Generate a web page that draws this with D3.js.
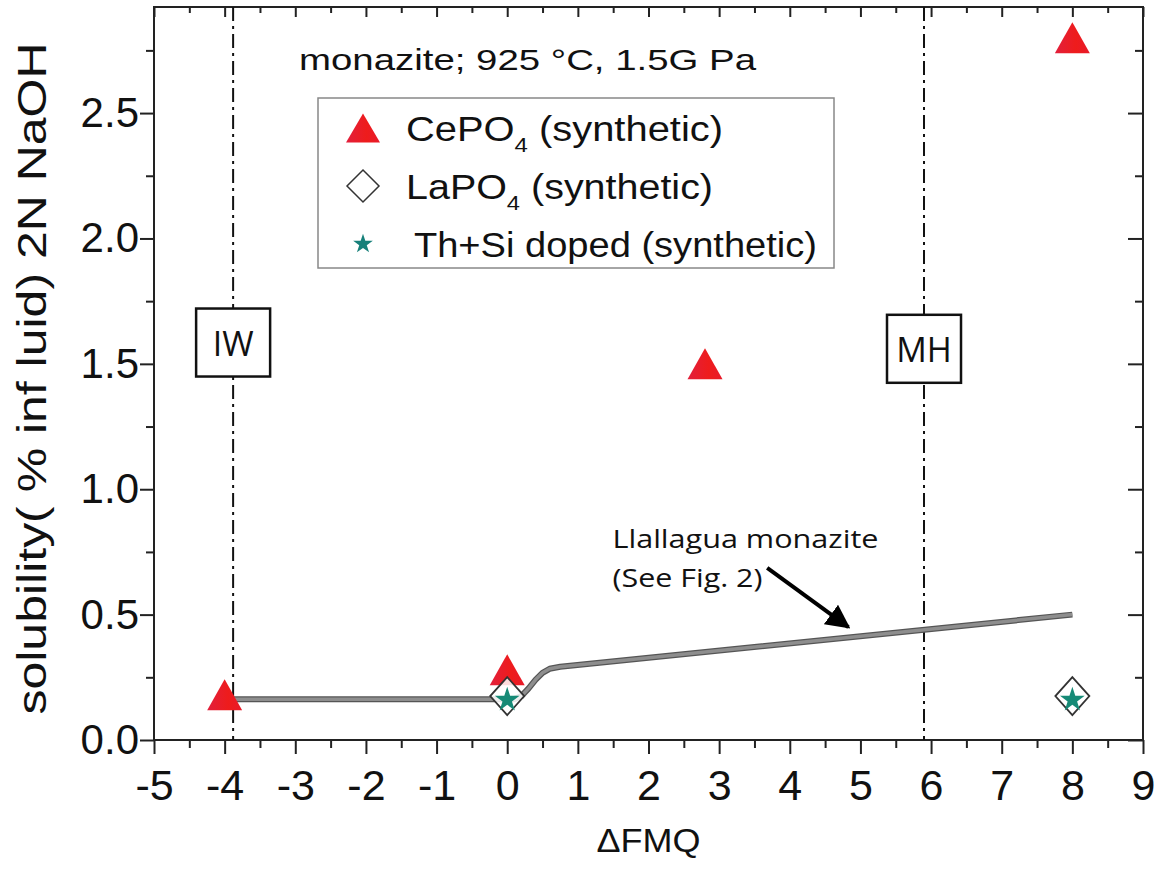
<!DOCTYPE html>
<html>
<head>
<meta charset="utf-8">
<script src="https://cdn.jsdelivr.net/npm/d3@7"></script>
<style>
  body { margin: 0; background: #fff; }
  svg { display: block; }
  text { fill: #111; }
</style>
</head>
<body>
<div id="chart"></div>
<script>
// data
const ceX = [-4, 0, 2.8, 8];
const ceY = [0.18, 0.28, 1.5, 2.8];
const laX = [0, 8];
const laY = [0.175, 0.175];
const thX = [0, 8];
const thY = [0.16, 0.16];
// Llallagua monazite curve
const llX = [-3.9, 0.1, 0.2, 0.3, 0.4, 0.5, 0.6, 0.75, 8];
const llY = [0.163, 0.163, 0.175, 0.205, 0.24, 0.268, 0.284, 0.292, 0.5];
// buffer lines
const bufNames = ["IW", "MH"];
const bufX = [-3.88, 5.9];
const bufBoxY = [1.585, 1.56];

const xTicks = d3.range(-5, 10, 1);
const xMinor = d3.range(-4.5, 9, 1);
const yTicks = [0, 0.5, 1.0, 1.5, 2.0, 2.5];
const yMinor = [0.25, 0.75, 1.25, 1.75, 2.25, 2.75];

const W = 1157, H = 876;
const margin = { top: 7, right: 14, bottom: 136, left: 154 },
  width = W - margin.left - margin.right,
  height = H - margin.top - margin.bottom;

const svg = d3.select("#chart")
  .append("svg")
  .attr("width", W)
  .attr("height", H)
  .append("g")
  .attr("transform", `translate(${margin.left},${margin.top})`);

const x = d3.scaleLinear().domain([-5, 9]).range([0, width]);
const y = d3.scaleLinear().domain([0, 2.923]).range([height, 0]);

const axisFont = "'Liberation Sans', Arial, sans-serif";
const myriad = "'Open Sans', 'Noto Sans', sans-serif";

// axes
function styleAxis(g) {
  g.select(".domain").remove();
  g.selectAll("line").attr("stroke", "#222").attr("stroke-width", 2);
}
svg.append("g").attr("transform", `translate(0,${height})`)
  .call(d3.axisBottom(x).tickValues(xTicks).tickSize(14).tickPadding(15).tickFormat(d => String(d)))
  .call(styleAxis)
  .call(g => g.selectAll("text").attr("font-family", axisFont).attr("font-size", 43).attr("fill", "#111"));
svg.append("g").attr("transform", `translate(0,${height})`)
  .call(d3.axisBottom(x).tickValues(xMinor).tickSize(8).tickFormat(""))
  .call(styleAxis);
svg.append("g")
  .call(d3.axisLeft(y).tickValues(yTicks).tickSize(14).tickPadding(1).tickFormat(d3.format(".1f")))
  .call(styleAxis)
  .call(g => g.selectAll("text").attr("font-family", axisFont).attr("font-size", 42).attr("fill", "#111"));
svg.append("g")
  .call(d3.axisLeft(y).tickValues(yMinor).tickSize(8).tickFormat(""))
  .call(styleAxis);
// top and right, ticks inward
svg.append("g")
  .call(d3.axisTop(x).tickValues(xTicks).tickSize(-10).tickFormat(""))
  .call(styleAxis);
svg.append("g")
  .call(d3.axisTop(x).tickValues(xMinor).tickSize(-6).tickFormat(""))
  .call(styleAxis);
svg.append("g").attr("transform", `translate(${width},0)`)
  .call(d3.axisRight(y).tickValues(yTicks).tickSize(-15).tickFormat(""))
  .call(styleAxis);
svg.append("g").attr("transform", `translate(${width},0)`)
  .call(d3.axisRight(y).tickValues(yMinor).tickSize(-8).tickFormat(""))
  .call(styleAxis);

svg.append("rect")
  .attr("width", width).attr("height", height)
  .attr("fill", "none").attr("stroke", "#222").attr("stroke-width", 2);

// axis titles
svg.append("text")
  .attr("x", x(2)).attr("y", height + 112)
  .attr("text-anchor", "middle")
  .attr("font-family", axisFont).attr("font-size", 33)
  .attr("textLength", 104).attr("lengthAdjust", "spacingAndGlyphs")
  .text("\u0394FMQ");
svg.append("text")
  .attr("transform", `translate(${-108},${height / 2 + 5}) rotate(-90)`)
  .attr("text-anchor", "middle")
  .attr("font-family", axisFont).attr("font-size", 40)
  .attr("textLength", 672).attr("lengthAdjust", "spacingAndGlyphs")
  .text("solubility( % inf luid) 2N NaOH");

// buffer lines
svg.selectAll(".buf")
  .data(bufX)
  .join("line")
  .attr("x1", d => x(d)).attr("x2", d => x(d))
  .attr("y1", 0).attr("y2", height)
  .attr("stroke", "#111").attr("stroke-width", 2)
  .attr("stroke-dasharray", "14,5,3,5");

// Llallagua curve
const line = d3.line()
  .x((d, i) => x(llX[i]))
  .y(d => y(d));
svg.append("path").datum(llY)
  .attr("d", line).attr("fill", "none")
  .attr("stroke", "#555").attr("stroke-width", 6)
  .attr("stroke-linejoin", "round");
svg.append("path").datum(llY)
  .attr("d", line).attr("fill", "none")
  .attr("stroke", "#8e8e8e").attr("stroke-width", 3.5)
  .attr("stroke-linejoin", "round");

// markers
function triangle(w, h) {
  const p = d3.path();
  p.moveTo(0, -h / 2); p.lineTo(w / 2, h / 2); p.lineTo(-w / 2, h / 2); p.closePath();
  return p.toString();
}
function diamond(w, h) {
  const p = d3.path();
  p.moveTo(0, -h / 2); p.lineTo(w / 2, 0); p.lineTo(0, h / 2); p.lineTo(-w / 2, 0); p.closePath();
  return p.toString();
}
const star = d3.symbol().type(d3.symbolStar).size(190);

const defs = d3.select("svg").append("defs");
const grad = defs.append("linearGradient").attr("id", "red").attr("x1", 0).attr("x2", 1).attr("y1", 0).attr("y2", 0);
grad.append("stop").attr("offset", "0%").attr("stop-color", "#e21f3c");
grad.append("stop").attr("offset", "60%").attr("stop-color", "#ee1c1c");
grad.append("stop").attr("offset", "100%").attr("stop-color", "#e81a2a");

svg.selectAll(".ce")
  .data(ceY)
  .join("path")
  .attr("transform", (d, i) => `translate(${x(ceX[i])},${y(d)})`)
  .attr("d", triangle(35, 31))
  .attr("fill", "url(#red)");

svg.selectAll(".la")
  .data(laY)
  .join("path")
  .attr("transform", (d, i) => `translate(${x(laX[i])},${y(d)})`)
  .attr("d", diamond(34, 38))
  .attr("fill", "#fff").attr("fill-opacity", 0.85)
  .attr("stroke", "#333").attr("stroke-width", 1.8);

svg.selectAll(".th")
  .data(thY)
  .join("path")
  .attr("transform", (d, i) => `translate(${x(thX[i])},${y(d)})`)
  .attr("d", star)
  .attr("fill", "#168a76");

// title
svg.append("text")
  .attr("x", 145).attr("y", 63)
  .attr("font-family", axisFont).attr("font-size", 29)
  .attr("textLength", 457).attr("lengthAdjust", "spacingAndGlyphs")
  .text("monazite; 925 \u00B0C, 1.5G Pa");

// legend
const lg = svg.append("g").attr("transform", "translate(164,91)");
lg.append("rect").attr("width", 516).attr("height", 170)
  .attr("fill", "#fff").attr("stroke", "#888").attr("stroke-width", 1.5);
lg.append("path").attr("transform", "translate(45,30)").attr("d", triangle(34, 29)).attr("fill", "url(#red)");
lg.append("path").attr("transform", "translate(45,88)").attr("d", diamond(32, 32))
  .attr("fill", "#fff").attr("stroke", "#333").attr("stroke-width", 1.5);
lg.append("path").attr("transform", "translate(45,146)").attr("d", d3.symbol().type(d3.symbolStar).size(120)).attr("fill", "#17807a");

const legendLabels = ["CePO", "LaPO", " Th+Si doped (synthetic)"];
const legendSubs = ["4", "4", ""];
const legendRest = [" (synthetic)", " (synthetic)", ""];
const legendLen = [317, 307, 413];
legendLabels.forEach((lab, i) => {
  const t = lg.append("text")
    .attr("x", i === 2 ? 86 : 88).attr("y", 43 + i * 58)
    .attr("font-family", axisFont).attr("font-size", 35)
    .attr("textLength", legendLen[i]).attr("lengthAdjust", "spacingAndGlyphs")
    .attr("xml:space", "preserve");
  t.append("tspan").text(lab);
  if (legendSubs[i]) {
    t.append("tspan").attr("dy", 11).attr("font-size", 21).text(legendSubs[i]);
    t.append("tspan").attr("dy", -11).text(legendRest[i]);
  }
});

// IW / MH boxes
bufNames.forEach((n, i) => {
  const cx = x(bufX[i]), cy = y(bufBoxY[i]);
  svg.append("rect")
    .attr("x", cx - 37).attr("y", cy - 34).attr("width", 74).attr("height", 68)
    .attr("fill", "#fff").attr("stroke", "#111").attr("stroke-width", 2.5);
  svg.append("text")
    .attr("x", cx).attr("y", cy + 13)
    .attr("text-anchor", "middle")
    .attr("font-family", myriad).attr("font-size", 34)
    .text(n);
});

// annotation
svg.append("text")
  .attr("x", x(1.49)).attr("y", y(0.765))
  .attr("font-family", myriad).attr("font-size", 25)
  .attr("textLength", 266).attr("lengthAdjust", "spacingAndGlyphs")
  .text("Llallagua monazite");
svg.append("text")
  .attr("x", x(1.49)).attr("y", y(0.612))
  .attr("font-family", myriad).attr("font-size", 25)
  .attr("textLength", 150).attr("lengthAdjust", "spacingAndGlyphs")
  .text("(See Fig. 2)");

defs.append("marker")
  .attr("id", "arrow").attr("viewBox", "0 0 10 10")
  .attr("refX", 9).attr("refY", 5)
  .attr("markerWidth", 6).attr("markerHeight", 6)
  .attr("markerUnits", "strokeWidth")
  .attr("orient", "auto")
  .append("path").attr("d", "M0,0 L10,5 L0,10 Z").attr("fill", "#000");
svg.append("line")
  .attr("x1", x(3.68)).attr("y1", y(0.686))
  .attr("x2", x(4.83)).attr("y2", y(0.45))
  .attr("stroke", "#000").attr("stroke-width", 4)
  .attr("marker-end", "url(#arrow)");
</script>
</body>
</html>
